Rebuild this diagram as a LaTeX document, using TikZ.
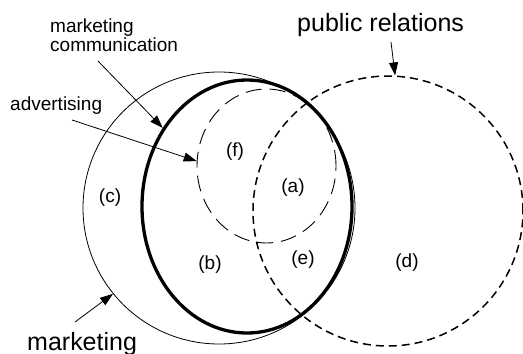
\documentclass[tikz,border=0pt]{standalone}
\usepackage{fontspec}
\setmainfont{Liberation Sans}
\usetikzlibrary{shapes.geometric,arrows.meta}

\begin{document}
\begin{tikzpicture}[
  x=1pt, y=-1pt,
  >={Triangle[length=13pt,width=9pt]},
  thinnode/.style={circle, draw=black, line width=0.8pt, inner sep=0pt},
  thicknode/.style={ellipse, draw=black, line width=3.3pt, inner sep=0pt},
  adnode/.style={ellipse, draw=black, line width=0.9pt, dash pattern=on 16pt off 8pt, inner sep=0pt},
  prnode/.style={circle, draw=black, line width=1.5pt, dash pattern=on 8pt off 5pt, inner sep=0pt},
  smalltext/.style={font=\fontsize{19}{19}\selectfont, inner sep=0pt},
  bigtext/.style={font=\fontsize{25}{25}\selectfont, inner sep=0pt},
]

\useasboundingbox (0,0) rectangle (523,354);

\node[thinnode, minimum size=272pt] (mkt) at (219,208) {};
\node[thicknode, minimum width=210pt, minimum height=253pt] (mc) at (247,206.5) {};
\node[adnode, minimum width=139pt, minimum height=154pt] (adv) at (266.5,166) {};
\node[prnode, minimum size=270pt] (pr) at (388,211) {};

\node[smalltext] (f) at (235,152) {(f)};
\node[smalltext] (a) at (293,188) {(a)};
\node[smalltext] (c) at (110,198) {(c)};
\node[smalltext] (b) at (210,265) {(b)};
\node[smalltext] (e) at (303,260) {(e)};
\node[smalltext] (d) at (407,263) {(d)};

\node[smalltext, anchor=north west, align=left] (mctext) at (50,19) {marketing\\communication};
\node[smalltext, anchor=base west] (advtext) at (10,110) {advertising};
\node[bigtext, anchor=base west] (prtext) at (297,31) {public relations};
\node[bigtext, anchor=base west] (mkttext) at (27,350) {marketing};

\coordinate (mcfrom) at (98,61);
\coordinate (advfrom) at (72,120);
\coordinate (prfrom) at (391,42);
\coordinate (mktfrom) at (75,322);

\draw[->, line width=0.8pt] (mcfrom) -- (mc.137);
\draw[->, line width=0.8pt] (advfrom) -- (adv.176);
\draw[->, line width=0.8pt] (prfrom) -- (pr.87);
\draw[->, line width=0.8pt] (mktfrom) -- (mkt.219);

\end{tikzpicture}
\end{document}
